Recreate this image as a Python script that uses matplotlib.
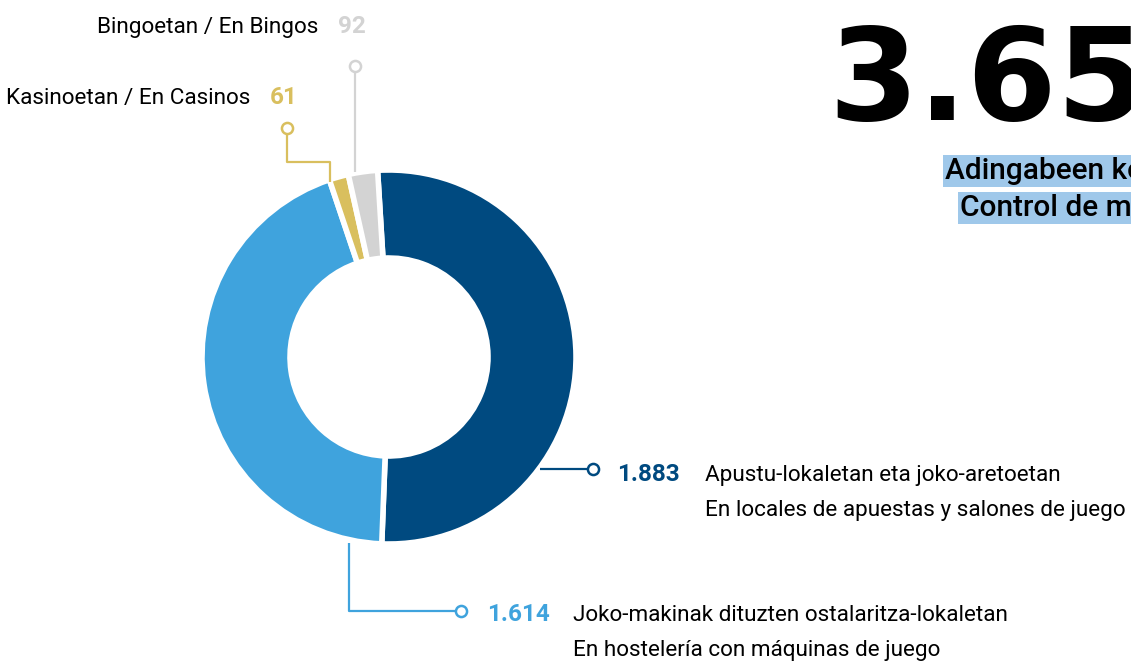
import matplotlib.pyplot as plt

# Adingabeen kontrolak / Control de menores
values = [1883, 1614, 61, 92]
colors = ['#004a80', '#3fa3dd', '#d9bf5e', '#d3d3d3']
value_labels = ['1.883', '1.614', '61', '92']
desc_eu = ['Apustu-lokaletan eta joko-aretoetan',
           'Joko-makinak dituzten ostalaritza-lokaletan',
           'Kasinoetan / En Casinos',
           'Bingoetan / En Bingos']
desc_es = ['En locales de apuestas y salones de juego',
           'En hostelería con máquinas de juego']
total_label = '3.650'
title_lines = ['Adingabeen kontrolak', 'Control de menores']

W, H = 1131, 664
FONT = ['Roboto', 'DejaVu Sans']


def py(y):
    # pixel row (from top) -> data y
    return H - y


fig = plt.figure(figsize=(W / 100, H / 100), dpi=100)
ax = fig.add_axes([0, 0, 1, 1])

ax.pie(values, colors=colors, startangle=93.5, counterclock=False,
       radius=187, center=(389, py(357)),
       wedgeprops=dict(width=88, edgecolor='white', linewidth=4))
ax.set_xlim(0, W)
ax.set_ylim(0, H)
ax.set_aspect('equal')
ax.axis('off')


def leader(xs, ys, color):
    ax.plot(xs, [py(y) for y in ys], color=color, lw=1.6, solid_capstyle='butt')
    ax.plot(xs[-1], py(ys[-1]), 'o', ms=8, mfc='white', mec=color, mew=1.8)


leader([540, 593], [469, 469], colors[0])
leader([349, 349, 461], [543, 611, 611], colors[1])
leader([330, 330, 287, 287], [182, 162, 162, 128], colors[2])
leader([355, 355], [172, 66], colors[3])

fs = 16.2
nfs = 17.5
# dark blue
ax.text(617, py(481), value_labels[0], color=colors[0], fontsize=nfs,
        fontweight='bold', family=FONT, va='baseline')
ax.text(705, py(481), desc_eu[0], fontsize=fs, family=FONT, va='baseline')
ax.text(705, py(516), desc_es[0], fontsize=fs, family=FONT, va='baseline')
# light blue
ax.text(487, py(621), value_labels[1], color=colors[1], fontsize=nfs,
        fontweight='bold', family=FONT, va='baseline')
ax.text(573, py(621), desc_eu[1], fontsize=fs, family=FONT, va='baseline')
ax.text(573, py(656), desc_es[1], fontsize=fs, family=FONT, va='baseline')
# casinos
ax.text(250, py(104), desc_eu[2], fontsize=fs, family=FONT,
        ha='right', va='baseline')
ax.text(270, py(104), value_labels[2], color=colors[2], fontsize=nfs,
        fontweight='bold', family=FONT, va='baseline')
# bingos
ax.text(318, py(33), desc_eu[3], fontsize=fs, family=FONT,
        ha='right', va='baseline')
ax.text(338, py(33), value_labels[3], color=colors[3], fontsize=nfs,
        fontweight='bold', family=FONT, va='baseline')

# big total (cropped at the right edge, as in the source)
ax.text(828, py(120), total_label, fontsize=93, fontweight='bold',
        family='DejaVu Sans', va='baseline')

# highlighted title (cropped at the right edge, as in the source)
box = dict(facecolor='#9fc8ea', edgecolor='none', pad=1.5)
ax.text(945, py(179), title_lines[0], fontsize=21.5, fontweight='medium',
        family=FONT, va='baseline', bbox=box)
ax.text(960, py(216), title_lines[1], fontsize=21.5, fontweight='medium',
        family=FONT, va='baseline', bbox=box)

fig.savefig('out.png', dpi=100)
